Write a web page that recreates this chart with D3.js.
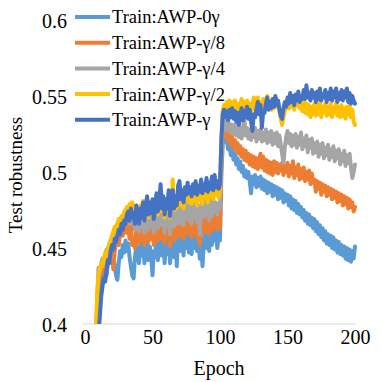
<!DOCTYPE html>
<html><head><meta charset="utf-8">
<script src="https://cdn.jsdelivr.net/npm/d3@7"></script>
<style>
html,body{margin:0;padding:0;background:#fff;}
svg{display:block;}
</style>
</head><body>
<svg id="c" width="382" height="382"></svg>
<script>
const startEpoch = 8;
const seriesNames = ["Train:AWP-0γ","Train:AWP-γ/8","Train:AWP-γ/4","Train:AWP-γ/2","Train:AWP-γ"];
const seriesColors = ["#5B9BD5","#ED7D31","#A5A5A5","#FFC000","#4472C4"];
const xTicks = [0,50,100,150,200];
const yTicks = [0.4,0.45,0.5,0.55,0.6];
const yTickLabels = ["0.4","0.45","0.5","0.55","0.6"];

// epochs 8..200
const awp0 = [
0.385,0.405,
0.414,0.424,0.430,0.427,0.434,0.438,0.432,0.440,0.445,0.442,
0.450,0.446,0.438,0.432,0.429,0.440,0.448,0.444,0.452,0.447,
0.455,0.448,0.453,0.444,0.438,0.432,0.430,0.444,0.451,0.446,
0.440,0.452,0.445,0.456,0.440,0.450,0.458,0.442,0.451,0.445,
0.432,0.448,0.444,0.459,0.442,0.452,0.462,0.445,0.455,0.440,
0.456,0.446,0.458,0.440,0.450,0.460,0.444,0.454,0.438,0.461,
0.464,0.448,0.457,0.445,0.462,0.450,0.463,0.447,0.458,0.446,
0.462,0.450,0.465,0.448,0.459,0.443,0.456,0.438,0.452,0.465,
0.450,0.462,0.448,0.466,0.452,0.463,0.455,0.462,0.450,0.458,
0.455,0.498,0.518,0.524,0.520,0.522,0.515,0.519,0.511,0.515,
0.508,0.512,0.505,0.509,0.502,0.507,0.500,0.504,0.497,0.501,
0.496,0.500,0.494,0.486,0.497,0.492,0.498,0.490,0.496,0.491,
0.497,0.489,0.495,0.488,0.494,0.486,0.493,0.487,0.492,0.484,
0.491,0.485,0.490,0.482,0.489,0.483,0.488,0.480,0.486,0.481,
0.485,0.478,0.484,0.476,0.482,0.475,0.481,0.473,0.479,0.472,
0.477,0.470,0.475,0.468,0.473,0.466,0.472,0.465,0.470,0.463,
0.469,0.461,0.467,0.459,0.465,0.457,0.463,0.455,0.461,0.453,
0.459,0.452,0.458,0.450,0.457,0.449,0.455,0.447,0.454,0.446,
0.452,0.445,0.451,0.443,0.450,0.442,0.449,0.441,0.448,0.443,
0.451];
const awp8 = [
0.385,0.410,
0.428,0.432,0.436,0.434,0.440,0.443,0.441,0.446,0.449,0.451,
0.446,0.436,0.448,0.454,0.458,0.452,0.460,0.463,0.458,0.465,
0.467,0.460,0.464,0.456,0.466,0.452,0.455,0.450,0.462,0.457,
0.453,0.462,0.455,0.466,0.452,0.460,0.468,0.454,0.463,0.456,
0.465,0.452,0.459,0.469,0.455,0.462,0.471,0.456,0.464,0.453,
0.464,0.457,0.468,0.451,0.462,0.470,0.455,0.465,0.457,0.470,
0.473,0.458,0.467,0.456,0.471,0.460,0.472,0.459,0.468,0.457,
0.470,0.460,0.473,0.457,0.468,0.452,0.466,0.471,0.460,0.474,
0.462,0.471,0.459,0.475,0.462,0.473,0.464,0.471,0.462,0.468,
0.463,0.505,0.524,0.529,0.523,0.527,0.521,0.525,0.518,0.523,
0.516,0.521,0.514,0.519,0.512,0.517,0.510,0.515,0.508,0.514,
0.507,0.512,0.505,0.511,0.504,0.510,0.503,0.509,0.502,0.508,
0.512,0.503,0.510,0.501,0.508,0.500,0.507,0.499,0.506,0.498,
0.507,0.500,0.506,0.499,0.505,0.501,0.506,0.498,0.504,0.500,
0.506,0.497,0.504,0.499,0.507,0.496,0.503,0.498,0.505,0.495,
0.502,0.496,0.503,0.494,0.500,0.495,0.501,0.492,0.499,0.493,
0.495,0.487,0.494,0.489,0.493,0.485,0.492,0.487,0.491,0.484,
0.490,0.485,0.489,0.482,0.488,0.483,0.487,0.480,0.486,0.481,
0.485,0.478,0.484,0.479,0.483,0.476,0.482,0.477,0.480,0.474,
0.477];
const awp4 = [
0.385,0.415,
0.437,0.434,0.440,0.443,0.440,0.446,0.449,0.447,0.452,0.455,
0.457,0.460,0.456,0.462,0.466,0.462,0.468,0.470,0.466,0.472,
0.475,0.469,0.473,0.466,0.475,0.468,0.472,0.462,0.470,0.466,
0.461,0.470,0.464,0.474,0.460,0.469,0.477,0.462,0.472,0.465,
0.474,0.460,0.468,0.478,0.463,0.471,0.480,0.465,0.474,0.460,
0.472,0.465,0.477,0.459,0.470,0.478,0.464,0.474,0.466,0.479,
0.482,0.466,0.476,0.465,0.479,0.470,0.481,0.468,0.477,0.466,
0.480,0.470,0.482,0.467,0.478,0.459,0.476,0.481,0.470,0.483,
0.472,0.480,0.468,0.484,0.471,0.482,0.474,0.480,0.472,0.478,
0.476,0.512,0.530,0.534,0.528,0.533,0.527,0.532,0.526,0.531,
0.525,0.531,0.524,0.530,0.523,0.529,0.522,0.528,0.536,0.524,
0.529,0.522,0.528,0.521,0.527,0.523,0.529,0.520,0.527,0.522,
0.528,0.520,0.526,0.521,0.528,0.519,0.526,0.520,0.527,0.518,
0.525,0.519,0.526,0.517,0.524,0.518,0.512,0.506,0.516,0.523,
0.527,0.519,0.525,0.517,0.524,0.518,0.525,0.516,0.523,0.518,
0.526,0.515,0.522,0.517,0.524,0.513,0.521,0.516,0.522,0.512,
0.519,0.513,0.520,0.510,0.518,0.512,0.519,0.509,0.516,0.511,
0.518,0.508,0.515,0.510,0.517,0.507,0.514,0.509,0.515,0.505,
0.512,0.507,0.514,0.504,0.511,0.506,0.512,0.503,0.496,0.500,
0.505];
const awp2 = [
0.390,0.420,
0.432,0.436,0.440,0.438,0.443,0.447,0.445,0.450,0.453,0.455,
0.458,0.461,0.464,0.460,0.466,0.469,0.465,0.471,0.468,0.474,
0.472,0.477,0.474,0.479,0.476,0.480,0.474,0.470,0.478,0.474,
0.470,0.478,0.472,0.481,0.468,0.476,0.483,0.470,0.479,0.474,
0.481,0.470,0.477,0.485,0.472,0.479,0.488,0.474,0.482,0.470,
0.480,0.474,0.486,0.470,0.479,0.495,0.475,0.483,0.476,0.488,
0.490,0.478,0.486,0.476,0.488,0.482,0.490,0.480,0.487,0.479,
0.489,0.481,0.490,0.478,0.487,0.482,0.491,0.479,0.488,0.483,
0.493,0.480,0.489,0.484,0.494,0.482,0.495,0.485,0.490,0.483,
0.488,0.522,0.540,0.544,0.540,0.546,0.541,0.547,0.542,0.546,
0.541,0.547,0.540,0.545,0.539,0.544,0.548,0.540,0.546,0.542,
0.547,0.540,0.545,0.539,0.544,0.549,0.541,0.546,0.549,0.541,
0.546,0.541,0.548,0.540,0.546,0.550,0.542,0.547,0.541,0.548,
0.542,0.549,0.543,0.546,0.540,0.535,0.531,0.536,0.540,0.543,
0.547,0.542,0.549,0.543,0.547,0.541,0.548,0.544,0.549,0.542,
0.546,0.540,0.547,0.539,0.545,0.538,0.544,0.536,0.543,0.538,
0.545,0.537,0.544,0.538,0.546,0.536,0.543,0.539,0.545,0.537,
0.543,0.538,0.545,0.536,0.542,0.539,0.546,0.537,0.543,0.536,
0.544,0.537,0.542,0.535,0.543,0.538,0.544,0.536,0.541,0.533,
0.531];
const awp1 = [
0.360,0.375,
0.392,0.405,0.418,0.425,0.430,0.428,0.436,0.442,0.440,0.448,
0.452,0.449,0.456,0.454,0.458,0.462,0.459,0.466,0.462,0.468,
0.466,0.472,0.474,0.468,0.476,0.470,0.473,0.466,0.478,0.471,
0.466,0.476,0.470,0.480,0.468,0.478,0.484,0.472,0.480,0.473,
0.482,0.469,0.476,0.486,0.474,0.480,0.492,0.476,0.484,0.472,
0.482,0.476,0.488,0.471,0.480,0.488,0.476,0.484,0.478,0.491,
0.494,0.482,0.488,0.480,0.490,0.485,0.493,0.486,0.490,0.484,
0.492,0.486,0.494,0.485,0.491,0.487,0.495,0.486,0.492,0.488,
0.496,0.487,0.493,0.489,0.497,0.488,0.498,0.490,0.494,0.489,
0.492,0.520,0.538,0.541,0.536,0.540,0.534,0.541,0.536,0.542,
0.535,0.540,0.533,0.539,0.531,0.537,0.542,0.534,0.540,0.536,
0.543,0.535,0.541,0.533,0.527,0.538,0.536,0.541,0.546,0.538,
0.544,0.529,0.540,0.539,0.545,0.549,0.541,0.546,0.542,0.548,
0.543,0.550,0.544,0.547,0.541,0.537,0.535,0.542,0.546,0.543,
0.549,0.545,0.552,0.546,0.550,0.544,0.551,0.547,0.553,0.546,
0.550,0.548,0.554,0.548,0.557,0.549,0.552,0.547,0.554,0.549,
0.552,0.546,0.553,0.548,0.555,0.547,0.551,0.549,0.554,0.546,
0.552,0.548,0.555,0.547,0.553,0.549,0.555,0.546,0.552,0.548,
0.554,0.547,0.553,0.549,0.555,0.546,0.552,0.545,0.550,0.547,
0.545];
const seriesValues = [awp0, awp8, awp4, awp2, awp1];

const svg = d3.select("#c");
const x = d3.scaleLinear().domain([0,200]).range([85,355]);
const y = d3.scaleLinear().domain([0.4,0.6]).range([324,20]);
const font = '"Liberation Serif", "Times New Roman", serif';

svg.append("defs").append("clipPath").attr("id","clip")
  .append("rect").attr("x",83).attr("y",0).attr("width",280).attr("height",324);

// bottom axis line
svg.append("line").attr("x1",83).attr("x2",356).attr("y1",y(0.4)).attr("y2",y(0.4))
  .attr("stroke","#D9D9D9").attr("stroke-width",1);

// y tick labels
const yAxis = d3.axisLeft(y).tickValues(yTicks).tickSize(0).tickPadding(0)
  .tickFormat((d,i)=>yTickLabels[i]);
const gy = svg.append("g").attr("transform","translate(67,0)").call(yAxis)
  .attr("font-family",null).attr("font-size",null);
gy.select(".domain").remove();
gy.selectAll("text").style("font-family",font).style("font-size","20px").attr("fill","#000").attr("dy","0.35em");

// x tick labels
const xAxis = d3.axisBottom(x).tickValues(xTicks).tickSize(0).tickPadding(0).tickFormat(d3.format("d"));
const gx = svg.append("g").attr("transform","translate(0,330)").call(xAxis)
  .attr("font-family",null).attr("font-size",null);
gx.select(".domain").remove();
gx.selectAll("text").style("font-family",font).style("font-size","20px").attr("fill","#000").attr("dy","0.71em");

// axis titles
svg.append("text").attr("x",219).attr("y",375).attr("text-anchor","middle")
  .style("font-family",font).style("font-size","20px").text("Epoch");
svg.append("text").attr("transform","translate(22,175) rotate(-90)").attr("text-anchor","middle")
  .style("font-family",font).style("font-size","19px").text("Test robustness");

// lines
const line = d3.line().x((d,i)=>x(startEpoch+i)).y(d=>y(d)).curve(d3.curveLinear);
const gl = svg.append("g").attr("clip-path","url(#clip)");
seriesValues.forEach((vals,k)=>{
  gl.append("path").datum(vals).attr("d",line).attr("fill","none")
    .attr("stroke",seriesColors[k]).attr("stroke-width",4)
    .attr("stroke-linejoin","round").attr("stroke-linecap","round");
});

// legend
const lg = svg.append("g");
seriesNames.forEach((n,k)=>{
  const yy = 17 + k*25.7;
  lg.append("line").attr("x1",75).attr("x2",110).attr("y1",yy).attr("y2",yy)
    .attr("stroke",seriesColors[k]).attr("stroke-width",4);
  lg.append("text").attr("x",112).attr("y",yy).attr("dy","0.35em")
    .style("font-family",font).style("font-size","18.5px").text(n);
});
</script>
</body></html>
